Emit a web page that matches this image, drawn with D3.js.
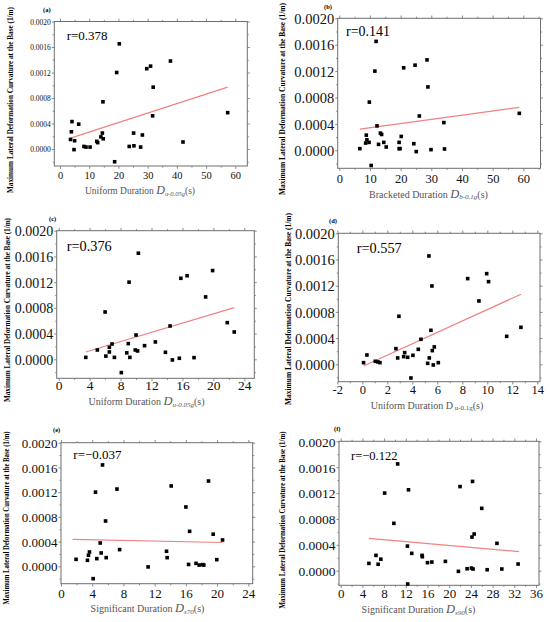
<!DOCTYPE html>
<html>
<head>
<meta charset="utf-8">
<script src="https://cdn.jsdelivr.net/npm/d3@7"></script>
<style>
  body { margin: 0; background: #fff; }
  svg { display: block; font-family: "Liberation Serif", "DejaVu Serif", serif; }
</style>
</head>
<body>
<svg id="chart" width="550" height="622"></svg>
<script>
// y = maximum lateral deformation curvature at the base (1/m), x = duration measure (s)

// (a) uniform duration Du-0.05g
const durA = [3.6, 4.1, 3.9, 6.4, 5.0, 4.8, 8.2, 8.9, 10.3, 12.6, 12.9, 14.0, 14.5, 14.8, 14.7,
  18.7, 19.4, 20.3, 23.7, 25.3, 25.2, 27.6, 28.2, 29.7, 31.0, 31.9, 31.7, 37.8, 42.1, 57.4];
const curvA = [0.00015, 0.00043, 0.00027, 0.00039, 0.00013, -0.00001, 0.00004, 0.00003, 0.00003, 0.00012,
  0.00010, 0.00019, 0.00025, 0.00016, 0.00074, -0.00020, 0.00120, 0.00165, 0.00004, 0.00005,
  0.00025, 0.00003, 0.00022, 0.00126, 0.00130, 0.00097, 0.00052, 0.00138, 0.00011, 0.00057];

// (b) bracketed duration Db-0.1g
const durB = [6.7, 10.4, 8.8, 8.6, 9.0, 9.7, 9.8, 11.6, 12.0, 12.3, 12.8, 13.4, 13.8, 14.5, 15.3,
  19.5, 19.5, 19.8, 20.2, 21.0, 24.3, 24.7, 25.1, 26.1, 28.6, 28.9, 29.9, 34.1, 34.3, 58.7];
const curvB = [0.000025, -0.00023, 0.00023, 0.00011, 0.00016, 0.00012, 0.00073, 0.00120, 0.00165, 0.00037,
  0.00009, 0.00026, 0.00024, 0.00012, 0.00005, 0.00012, 0.000025, 0.000025, 0.00021, 0.00125,
  0.00010, 0.00129, -0.00002, 0.00052, 0.00137, 0.00096, 0.00001, 0.00042, 0.00002, 0.00056];

// (c) uniform duration Du-0.05g
const durC = [3.5, 5.0, 6.0, 6.1, 6.55, 6.55, 6.9, 7.2, 8.1, 8.8, 9.0, 9.1, 9.2, 9.9, 10.0,
  10.2, 10.3, 11.1, 12.5, 13.8, 14.4, 14.7, 15.6, 15.8, 16.6, 17.5, 19.0, 19.9, 21.8, 22.7];
const curvC = [0.00003, 0.000145, 0.000736, 0.00005, 0.000114, 0.000187, 0.000238, 0.00003, -0.000207, 0.0001,
  0.000244, 0.0012, 0.00003, 0.000145, 0.000378, 0.00013, 0.00165, 0.000212, 0.00027, 0.000109,
  0.000518, -0.00001, 0.000016, 0.00126, 0.0013, 0.000026, 0.00097, 0.00138, 0.00057, 0.000425];

// (d) uniform duration Du-0.1g
const durD = [0.1, 0.37, 1.04, 1.25, 1.41, 2.69, 2.83, 2.93, 3.31, 3.39, 3.63, 3.89, 4.05, 4.48, 4.69,
  5.23, 5.33, 5.36, 5.49, 5.57, 5.6, 5.68, 5.76, 6.08, 8.43, 9.33, 9.95, 10.1, 11.55, 12.69];
const curvD = [0.000025, 0.000142, 0.000046, 0.000036, 0.000025, 0.000239, 0.000097, 0.000733, 0.000117, 0.000178,
  0.000107, -0.000209, 0.000137, 0.000229, 0.000382, 0.000015, 0.001654, 0.000097, 0.000519, 0.001196,
  0.000209, -0.00001, 0.000265, 0.000025, 0.001308, 0.000967, 0.001384, 0.001262, 0.000427, 0.000565];

// (e) significant duration Ds70
const durE = [1.93, 3.39, 3.52, 3.65, 4.12, 4.42, 4.59, 5.02, 5.15, 5.32, 5.71, 5.79, 7.17, 7.51, 11.16,
  13.52, 13.6, 14.12, 16.0, 16.48, 16.35, 17.3, 17.7, 18.15, 18.3, 18.9, 19.5, 19.96, 20.7];
const curvE = [0.000113, 0.000097, 0.000178, 0.000232, -0.0002, 0.0012, 0.000124, 0.000377, 0.000216, 0.00164,
  0.000733, 0.00014, 0.00125, 0.00027, -0.00001, 0.000243, 0.00014, 0.0013, 0.00096, 0.000566,
  0.00003, 0.000048, 0.00002, 0.000027, 0.00002, 0.00138, 0.00052, 0.000108, 0.000426];

// (f) significant duration Ds90
const durF = [5.2, 6.5, 6.9, 7.4, 8.1, 9.8, 10.5, 12.35, 12.3, 12.5, 13.1, 15.0, 15.05, 16.0, 16.8,
  19.3, 21.7, 22.0, 23.3, 24.1, 24.4, 24.2, 24.6, 24.3, 26.0, 27.0, 28.8, 29.7, 32.7];
const curvF = [0.000113, 0.000237, 0.0001, 0.000178, 0.0012, 0.000732, 0.00165, -0.000206, 0.00038, 0.00125,
  0.000268, 0.000237, 0.000216, 0.000124, 0.000134, 0.000144, -0.00001, 0.0013, 0.00003, 0.00004,
  0.000026, 0.00052, 0.000567, 0.00138, 0.000964, 0.000015, 0.000423, 0.000026, 0.000103];

// fitted lines as read: [x1, y1, x2, y2]
const fitA = [3.6, 0.00017, 57.4, 0.00097];
const fitB = [6.7, 0.00032, 58.7, 0.00065];
const fitC = [3.5, 0.000114, 22.7, 0.000803];
const fitD = [0.1, -0.000025, 12.7, 0.00107];
const fitE = [1.5, 0.000435, 20.7, 0.000385];
const fitF = [5.2, 0.0005, 32.9, 0.000294];

const rValues = ["0.378", "0.141", "0.376", "0.557", "\u22120.037", "\u22120.122"];
const panelNames = ["(a)", "(b)", "(c)", "(d)", "(e)", "(f)"];
const yTitle = "Maximum Lateral Deformation Curvature at the Base (1/m)";
const xTitles = [
  ["Uniform Duration ", "D", "u-0.05g", "(s)"],
  ["Bracketed Duration ", "D", "b-0.1g", "(s)"],
  ["Uniform Duration ", "D", "u-0.05g", "(s)"],
  ["Uniform Duration ", "D", " u-0.1g", "(s)"],
  ["Significant Duration ", "D", "s70", "(s)"],
  ["Significant Duration ", "D", "s90", "(s)"]
];

const yTicks = [0, 0.0004, 0.0008, 0.0012, 0.0016, 0.002];
const xTicksA = [0, 10, 20, 30, 40, 50, 60];
const xTicksC = [0, 4, 8, 12, 16, 20, 24];
const xTicksD = [-2, 0, 2, 4, 6, 8, 10, 12, 14];
const xTicksF = [0, 4, 8, 12, 16, 20, 24, 28, 32, 36];

// layout: frame [L,T,R,B], two x anchors -> px, y(0) and y(0.002) -> px, fonts and text spots
// xlc = centre of x tick labels below the frame bottom
const panels = [
  { x: durA, y: curvA, fit: fitA, xt: xTicksA, step: 10,
    frame: [54.3, 21.5, 247.3, 166], xa: [0, 60], xp: [60, 235.3], yp: [149, 21.5],
    yFs: 7.5, xFs: 10.5, xlc: 9, rFs: 13, r: [66.7, 40], nm: [43, 11.5],
    yt: [10, 100, 186], xtl: [140, 194, 9.5, 12, 6.5], xtlItalic: true },
  { x: durB, y: curvB, fit: fitB, xt: xTicksA, step: 10,
    frame: [337.7, 18.3, 540.5, 168.3], xa: [0, 60], xp: [339.3, 523.3], yp: [150.3, 18.3],
    yFs: 14.5, xFs: 12.5, xlc: 10, rFs: 14, r: [346, 36], nm: [324, 8.5],
    yt: [282, 99, 192], xtl: [428.5, 197.5, 10, 12.5, 7], xtlItalic: true },
  { x: durC, y: curvC, fit: fitC, xt: xTicksC, step: 4,
    frame: [56.7, 230.7, 254.3, 378.3], xa: [0, 24], xp: [58.7, 244.3], yp: [359.3, 230.7],
    yFs: 14, xFs: 13.5, xlc: 7, rFs: 14.3, r: [66.7, 250.7], nm: [49, 221],
    yt: [7, 310, 184], xtl: [146.5, 405, 10, 12.5, 7], xtlItalic: true },
  { x: durD, y: curvD, fit: fitD, xt: xTicksD, step: 2,
    frame: [338.3, 233.3, 540, 381.7], xa: [-2, 14], xp: [337.3, 537.3], yp: [364.3, 233.3],
    yFs: 14.5, xFs: 12.5, xlc: 8.3, rFs: 14.3, r: [356.7, 252.7], nm: [329, 223],
    yt: [288, 309, 192], xtl: [427, 408.5, 10, 10, 7], xtlItalic: false },
  { x: durE, y: curvE, fit: fitE, xt: xTicksC, step: 4,
    frame: [61, 442.7, 252.7, 583.7], xa: [0, 24], xp: [61, 248.3], yp: [566.3, 442.7],
    yFs: 13, xFs: 13, xlc: 9.5, rFs: 13, r: [73.3, 458.7], nm: [53, 431.5],
    yt: [6, 518, 173], xtl: [147.5, 612, 10, 12.5, 7], xtlItalic: true },
  { x: durF, y: curvF, fit: fitF, xt: xTicksF, step: 4,
    frame: [339, 441.3, 539, 585.3], xa: [0, 36], xp: [340.7, 536], yp: [570.7, 441.3],
    yFs: 13.5, xFs: 13, xlc: 8, rFs: 12.5, r: [351, 460.3], nm: [334, 430.5],
    yt: [282, 520, 177], xtl: [418.5, 613, 10, 12.5, 7], xtlItalic: true }
];

const svg = d3.select("#chart");
const frameColor = "#6e6e6e";

panels.forEach((p, i) => drawPanel(p, i));

function drawPanel(p, i) {
  const [L, T, R, B] = p.frame;
  const x = d3.scaleLinear().domain(p.xa).range(p.xp);
  const y = d3.scaleLinear().domain([0, 0.002]).range(p.yp);
  const g = svg.append("g");

  // minor tick values (half steps) inside the frame
  const xMinor = d3.range(p.xt[0] - p.step / 2, p.xt[p.xt.length - 1] + p.step, p.step)
    .filter((v) => x(v) >= L - 0.5 && x(v) <= R + 0.5);
  const yMinor = d3.range(-0.0002, 0.002, 0.0004).filter((v) => y(v) <= B && y(v) >= T);

  const styleAxis = (sel, fs) => {
    sel.select(".domain").remove();
    sel.selectAll("line").attr("stroke", frameColor).attr("stroke-width", 0.8);
    sel.selectAll("text")
      .attr("font-family", "'Liberation Serif', serif")
      .attr("font-size", fs)
      .attr("fill", "#111");
  };

  // major ticks + labels
  const xTick = 2.8;
  g.append("g").attr("transform", `translate(0,${B})`)
    .call(d3.axisBottom(x).tickValues(p.xt).tickSize(xTick).tickPadding(0)
      .tickFormat((d) => String(d)))
    .call(styleAxis, p.xFs)
    .selectAll("text")
    .attr("y", p.xlc)
    .attr("dy", "0.34em");
  g.append("g").attr("transform", `translate(${L},0)`)
    .call(d3.axisLeft(y).tickValues(yTicks).tickSize(2.5).tickPadding(1)
      .tickFormat(d3.format(".4f")))
    .call(styleAxis, p.yFs)
    .selectAll("text").attr("dy", "0.36em");
  g.append("g").attr("transform", `translate(0,${T})`)
    .call(d3.axisTop(x).tickValues(p.xt).tickSize(xTick).tickFormat(""))
    .call(styleAxis, 1);
  g.append("g").attr("transform", `translate(${R},0)`)
    .call(d3.axisRight(y).tickValues(yTicks).tickSize(2.5).tickFormat(""))
    .call(styleAxis, 1);

  // minor ticks on four sides
  g.append("g").attr("transform", `translate(0,${B})`)
    .call(d3.axisBottom(x).tickValues(xMinor).tickSize(1.6).tickFormat(""))
    .call(styleAxis, 1);
  g.append("g").attr("transform", `translate(0,${T})`)
    .call(d3.axisTop(x).tickValues(xMinor).tickSize(1.6).tickFormat(""))
    .call(styleAxis, 1);
  g.append("g").attr("transform", `translate(${L},0)`)
    .call(d3.axisLeft(y).tickValues(yMinor).tickSize(1.5).tickFormat(""))
    .call(styleAxis, 1);
  g.append("g").attr("transform", `translate(${R},0)`)
    .call(d3.axisRight(y).tickValues(yMinor).tickSize(1.5).tickFormat(""))
    .call(styleAxis, 1);

  // frame
  g.append("rect")
    .attr("x", L).attr("y", T)
    .attr("width", R - L).attr("height", B - T)
    .attr("fill", "none")
    .attr("stroke", frameColor)
    .attr("stroke-width", 1);

  // fitted line
  g.append("line")
    .attr("x1", x(p.fit[0])).attr("y1", y(p.fit[1]))
    .attr("x2", x(p.fit[2])).attr("y2", y(p.fit[3]))
    .attr("stroke", "#ef8282")
    .attr("stroke-width", 1.2);

  // points
  const pts = p.x.map((v, k) => ({ x: v, y: p.y[k] }));
  const s = 3.6;
  g.selectAll(".pt")
    .data(pts)
    .enter()
    .append("rect")
    .attr("class", "pt")
    .attr("x", (d) => x(d.x) - s / 2)
    .attr("y", (d) => y(d.y) - s / 2)
    .attr("width", s)
    .attr("height", s)
    .attr("fill", "#000");

  // r value
  g.append("text")
    .attr("x", p.r[0]).attr("y", p.r[1])
    .attr("font-size", p.rFs)
    .attr("fill", "#000")
    .text("r=" + rValues[i]);

  // panel name
  g.append("text")
    .attr("x", p.nm[0]).attr("y", p.nm[1])
    .attr("font-size", 6.5)
    .attr("font-weight", "bold")
    .text(panelNames[i]);

  // y title
  g.append("text")
    .attr("transform", `translate(${p.yt[0]},${p.yt[1]}) rotate(-90)`)
    .attr("text-anchor", "middle")
    .attr("dominant-baseline", "central")
    .attr("font-size", 7.5)
    .attr("font-weight", "bold")
    .attr("textLength", p.yt[2])
    .attr("lengthAdjust", "spacingAndGlyphs")
    .text(yTitle);

  // x title with subscripted symbol
  const [cx, by, fs, dfs, sfs] = p.xtl;
  const t = xTitles[i];
  const xt = g.append("text")
    .attr("x", cx).attr("y", by)
    .attr("text-anchor", "middle")
    .attr("fill", "#555")
    .attr("font-size", fs);
  xt.append("tspan").text(t[0]);
  xt.append("tspan")
    .attr("font-size", dfs)
    .attr("font-style", p.xtlItalic ? "italic" : "normal")
    .text(t[1]);
  xt.append("tspan")
    .attr("font-size", sfs)
    .attr("font-style", p.xtlItalic ? "italic" : "normal")
    .attr("dy", 1.5)
    .text(t[2]);
  xt.append("tspan")
    .attr("dy", -1.5)
    .text(t[3]);
}
</script>
</body>
</html>
